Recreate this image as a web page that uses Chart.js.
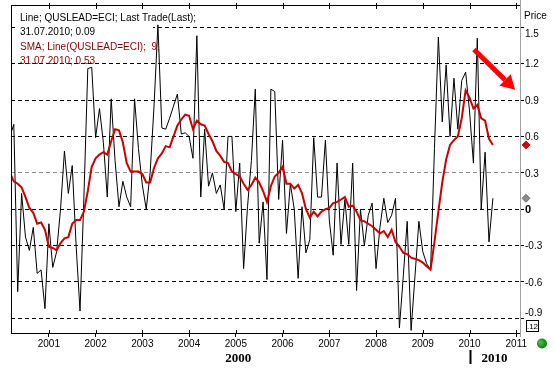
<!DOCTYPE html>
<html>
<head>
<meta charset="utf-8">
<script src="https://cdn.jsdelivr.net/npm/chart.js@4/dist/chart.umd.min.js"></script>
<style>
    html, body { margin: 0; padding: 0; background: #fff; }
    #wrap { width: 555px; height: 370px; }
</style>
</head>
<body>
<div id="wrap"><canvas id="chart" width="555" height="370"></canvas></div>
<script>
/* QUSLEAD=ECI monthly line with 9-period SMA */

// monthly readings, first one is March 2000, last one July 2010
const START_YEAR = 2000;
const START_MONTH = 3;

const lastTrade = [
    0.60, 0.70, -0.68, 0.13, -0.23, -0.34, -0.15, -0.53, -0.50, -0.82,
    -0.12, -0.48, -0.35, 0.00, 0.48, 0.13, 0.36, -0.30, -0.84, 0.10, 1.16, 1.17,
    0.59, 0.83, 0.55, 0.10, 0.91, 0.40, 0.02, 0.23, 0.10, 0.02, 0.91, 0.50,
    0.20, 0.00, 0.30, 0.85, 1.52, 0.67, 0.66, 0.75, 0.85, 0.95, 0.62, 0.63,
    0.60, 0.42, 1.43, 0.10, 0.66, 0.19, 0.30, 0.13, 0.20, 0.00, 0.60, 0.60,
    -0.02, 0.38, -0.49, 0.02, 0.40, 0.99, -0.28, 0.06, -0.58, 0.99, 0.97, 0.08,
    0.57, -0.20, 0.21, 0.00, -0.57, 0.02, -0.36, -0.25, 0.59, 0.10, 0.10, 0.57,
    -0.09, -0.38, 0.38, -0.29, 0.08, -0.29, 0.38, -0.67, 0.00, -0.30, -0.05, 0.05,
    -0.49, -0.15, 0.09, -0.11, -0.05, 0.09, -0.98, -0.55, -0.10, -1.00, -0.55, -0.10,
    -0.35, -0.45, -0.50, 0.50, 1.42, 0.72, 1.19, 0.60, 1.08, 0.66, 1.06, 1.13,
    0.81, 0.38, 1.41, 0.00, 0.47, -0.27, 0.09
];

const sma9 = [
    0.30, 0.23, 0.21, 0.18, 0.10, 0.01, -0.03, -0.12, -0.11, -0.17,
    -0.31, -0.32, -0.34, -0.28, -0.24, -0.23, -0.12, -0.09, -0.09, -0.02, 0.15, 0.35,
    0.42, 0.45, 0.47, 0.45, 0.56, 0.66, 0.65, 0.55, 0.38, 0.31, 0.31, 0.31,
    0.29, 0.22, 0.22, 0.34, 0.42, 0.46, 0.52, 0.51, 0.60, 0.69, 0.74, 0.78,
    0.77, 0.66, 0.73, 0.70, 0.69, 0.62, 0.56, 0.48, 0.44, 0.39, 0.38, 0.31,
    0.29, 0.27, 0.21, 0.16, 0.20, 0.26, 0.22, 0.15, 0.06, 0.19, 0.27, 0.30,
    0.35, 0.21, 0.21, 0.17, 0.20, 0.13, 0.00, -0.07, -0.02, -0.06, -0.02, 0.00,
    0.01, 0.05, 0.06, 0.08, 0.10, 0.02, 0.03, -0.02, -0.09, -0.10, -0.12, -0.14,
    -0.17, -0.20, -0.18, -0.23, -0.17, -0.27, -0.31, -0.36, -0.37, -0.40, -0.41, -0.42,
    -0.44, -0.47, -0.50, -0.27, -0.02, 0.22, 0.41, 0.53, 0.57, 0.60, 0.75, 0.98,
    0.92, 0.83, 0.86, 0.75, 0.73, 0.58, 0.53
];

const yearTicks = [2001, 2002, 2003, 2004, 2005, 2006, 2007, 2008, 2009, 2010, 2011];
const priceTicks = [-0.9, -0.6, -0.3, 0, 0.3, 0.6, 0.9, 1.2, 1.5];
const X_MIN = 2000.19, X_MAX = 2011.08;
const Y_MIN = -1.021, Y_MAX = 1.684;

const legendLines = [
    { text: "Line; QUSLEAD=ECI; Last Trade(Last);", color: "#000000" },
    { text: "31.07.2010; 0.09", color: "#000000" },
    { text: "SMA; Line(QUSLEAD=ECI);  9;", color: "#800000" },
    { text: "31.07.2010; 0.53", color: "#800000" }
];
const lastValue = 0.09;
const lastSma = 0.53;
// red arrow annotation, in chart units (year, value)
const arrowFrom = [2010.095, 1.317];
const arrowTo = [2010.975, 0.985];

const FONT = "'Liberation Sans', Arial, sans-serif";
const SERIF = "'Liberation Serif', 'Times New Roman', serif";

function monthX(i) {
    return START_YEAR + (START_MONTH - 1 + i) / 12;
}

const toPoints = arr => arr.map((v, i) => ({ x: monthX(i), y: v }));

const decorPlugin = {
    id: "decor",
    beforeDatasetsDraw(chart) {
        const ctx = chart.ctx;
        // legend box hides the grid behind the first two rows
        ctx.save();
        ctx.fillStyle = "#ffffff";
        ctx.fillRect(18, 8, 135, 48);
        ctx.restore();
    },
    afterDraw(chart) {
        const ctx = chart.ctx;
        const area = chart.chartArea;
        const xs = chart.scales.x, ys = chart.scales.y;
        ctx.save();

        // left axis + top frame
        ctx.strokeStyle = "#000";
        ctx.lineWidth = 1;
        ctx.beginPath();
        ctx.moveTo(area.left + 0.5, area.top);
        ctx.lineTo(area.left + 0.5, area.bottom);
        ctx.moveTo(area.left, area.top + 0.5);
        ctx.lineTo(area.right, area.top + 0.5);
        yearTicks.forEach(y => {
            const px = Math.round(xs.getPixelForValue(y)) + 0.5;
            ctx.moveTo(px, area.top - 2);
            ctx.lineTo(px, area.top + 4);
            ctx.moveTo(px, area.bottom - 3);
            ctx.lineTo(px, area.bottom);
        });
        ctx.stroke();

        // right frame in grey, a bit longer than the plot
        ctx.strokeStyle = "#a0a0a0";
        ctx.beginPath();
        ctx.moveTo(area.right + 0.5, 0);
        ctx.lineTo(area.right + 0.5, area.top);
        ctx.moveTo(area.right + 0.5, area.bottom);
        ctx.lineTo(area.right + 0.5, area.bottom + 4);
        ctx.stroke();

        // price labels; the outer two are nudged inwards like the original
        ctx.textBaseline = "middle";
        ctx.textAlign = "left";
        ctx.fillStyle = "#000";
        priceTicks.forEach(v => {
            let py = ys.getPixelForValue(v);
            if (v === priceTicks[priceTicks.length - 1]) py += 6;
            if (v === priceTicks[0]) py -= 6.5;
            ctx.font = (v === 0 ? "bold 11px " : "10px ") + FONT;
            ctx.fillText(v === 0 ? "0" : String(v), area.right + 5, py + 1);
        });

        // legend text
        ctx.font = "10px " + FONT;
        const rowsY = [18, 32.5, 47, 61];
        legendLines.forEach((l, i) => {
            ctx.fillStyle = l.color;
            ctx.fillText(l.text, 20, rowsY[i]);
        });

        // "Price" header
        ctx.fillStyle = "#000";
        ctx.fillText("Price", 524, 16);

        // last value markers on the price axis
        const diamond = (cy, fill, edge) => {
            const cx = 526;
            ctx.beginPath();
            ctx.moveTo(cx, cy - 4);
            ctx.lineTo(cx + 4, cy);
            ctx.lineTo(cx, cy + 4);
            ctx.lineTo(cx - 4, cy);
            ctx.closePath();
            ctx.fillStyle = fill;
            ctx.fill();
            ctx.strokeStyle = edge;
            ctx.lineWidth = 0.8;
            ctx.stroke();
        };
        diamond(ys.getPixelForValue(lastSma), "#e00000", "#a00000");
        diamond(ys.getPixelForValue(lastValue), "#8c8c8c", "#5a5a5a");

        // little ".12" box
        ctx.lineWidth = 1;
        ctx.strokeStyle = "#000";
        ctx.strokeRect(526.5, 320.5, 12, 11);
        ctx.fillStyle = "#000";
        ctx.font = "8px " + FONT;
        ctx.textAlign = "center";
        ctx.fillText(".12", 532.5, 326.5);

        // green status dot
        const grad = ctx.createRadialGradient(540, 342, 1, 542, 343.5, 6);
        grad.addColorStop(0, "#3fbf3f");
        grad.addColorStop(1, "#0a6e0a");
        ctx.beginPath();
        ctx.arc(542, 343.5, 5, 0, Math.PI * 2);
        ctx.fillStyle = grad;
        ctx.fill();

        // decade labels
        ctx.fillStyle = "#000";
        ctx.font = "bold 13px " + SERIF;
        ctx.textAlign = "center";
        ctx.fillText("2000", xs.getPixelForValue(2005.05), 359);
        const bx = Math.round(xs.getPixelForValue(2010)) + 0.5;
        ctx.lineWidth = 2;
        ctx.beginPath();
        ctx.moveTo(bx, 350);
        ctx.lineTo(bx, 364);
        ctx.stroke();
        ctx.textAlign = "left";
        ctx.fillText("2010", bx + 11, 359);

        // red arrow
        const x1 = xs.getPixelForValue(arrowFrom[0]), y1 = ys.getPixelForValue(arrowFrom[1]);
        const x2 = xs.getPixelForValue(arrowTo[0]), y2 = ys.getPixelForValue(arrowTo[1]);
        const ang = Math.atan2(y2 - y1, x2 - x1);
        const headLen = 14, headW = 8;
        const bxh = x2 - headLen * Math.cos(ang), byh = y2 - headLen * Math.sin(ang);
        ctx.strokeStyle = "#ff0000";
        ctx.fillStyle = "#ff0000";
        ctx.lineWidth = 5;
        ctx.lineCap = "butt";
        ctx.beginPath();
        ctx.moveTo(x1, y1);
        ctx.lineTo(bxh, byh);
        ctx.stroke();
        ctx.beginPath();
        ctx.moveTo(x2, y2);
        ctx.lineTo(bxh + headW * Math.sin(ang), byh - headW * Math.cos(ang));
        ctx.lineTo(bxh - headW * Math.sin(ang), byh + headW * Math.cos(ang));
        ctx.closePath();
        ctx.fill();

        ctx.restore();
    }
};

new Chart(document.getElementById("chart"), {
    type: "line",
    data: {
        datasets: [
            {
                label: "SMA 9",
                data: toPoints(sma9),
                borderColor: "#cc0000",
                borderWidth: 2,
                pointRadius: 0,
                tension: 0,
                order: 0
            },
            {
                label: "Last Trade",
                data: toPoints(lastTrade),
                borderColor: "#000000",
                borderWidth: 1,
                pointRadius: 0,
                tension: 0,
                order: 1
            }
        ]
    },
    options: {
        responsive: false,
        animation: false,
        devicePixelRatio: 1,
        layout: { padding: { left: 11, top: 5, right: 0, bottom: 0 } },
        plugins: {
            legend: { display: false },
            tooltip: { enabled: false }
        },
        scales: {
            x: {
                type: "linear",
                position: "bottom",
                min: X_MIN,
                max: X_MAX,
                afterBuildTicks: s => { s.ticks = yearTicks.map(v => ({ value: v })); },
                afterFit: s => { s.height = 37; },
                grid: {
                    drawOnChartArea: false,
                    drawTicks: true,
                    tickLength: 4,
                    tickColor: "#000"
                },
                border: { display: true, color: "#000", width: 1 },
                ticks: {
                    color: "#000",
                    font: { family: FONT, size: 10 },
                    padding: 1,
                    maxRotation: 0,
                    autoSkip: false,
                    callback: v => String(v)
                }
            },
            y: {
                type: "linear",
                position: "right",
                min: Y_MIN,
                max: Y_MAX,
                afterBuildTicks: s => { s.ticks = priceTicks.map(v => ({ value: v })); },
                afterFit: s => { s.width = 35; },
                grid: {
                    color: c => (c.tick && c.tick.value === 0.3 ? "#8c8c8c" : "#000000"),
                    lineWidth: 1,
                    drawTicks: true,
                    tickLength: 4,
                    tickColor: "#000",
                    tickBorderDash: []
                },
                border: { display: true, color: "#a0a0a0", width: 1, dash: [4, 3] },
                ticks: { display: false }
            }
        }
    },
    plugins: [decorPlugin]
});
</script>
</body>
</html>
